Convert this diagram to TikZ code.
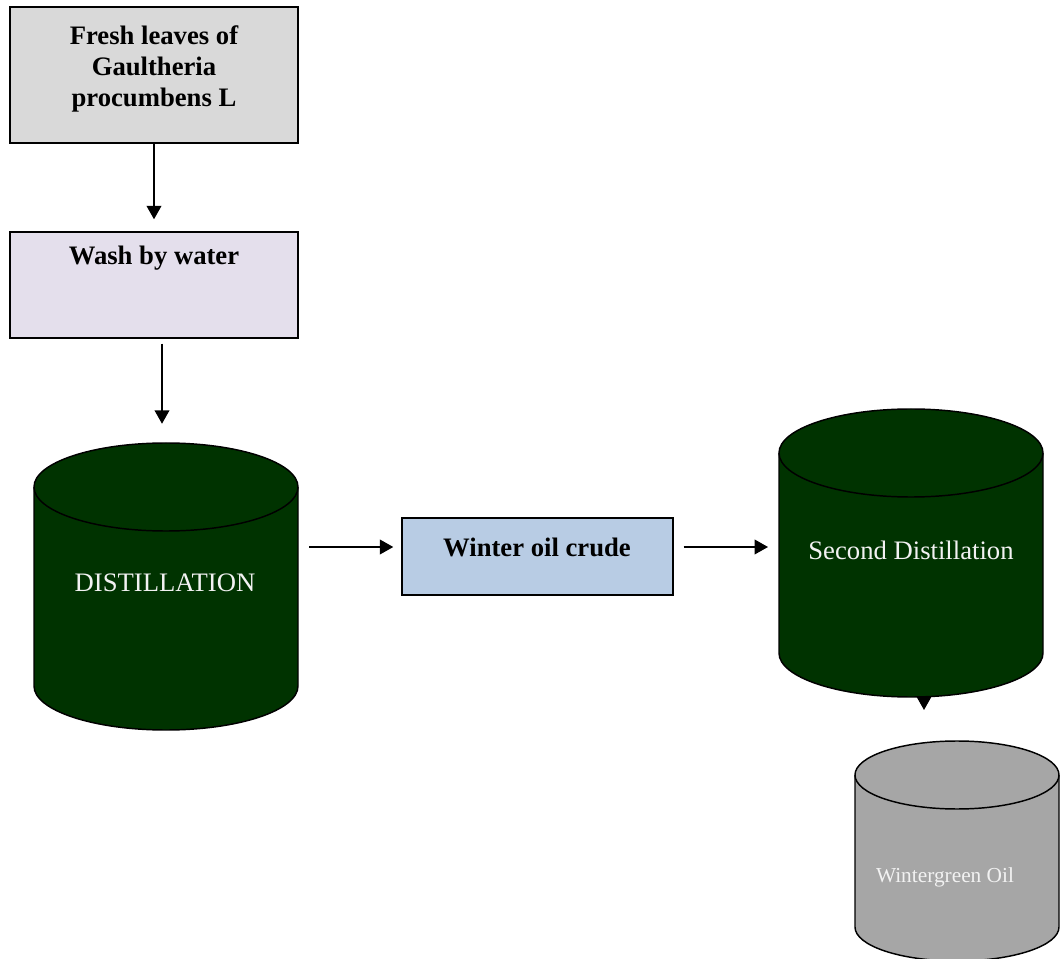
\documentclass[tikz,border=0pt]{standalone}
\usepackage{fontspec}
\setmainfont{Liberation Serif}
\usetikzlibrary{calc}
\usetikzlibrary{arrows.meta}
\definecolor{leafgray}{HTML}{D9D9D9}
\definecolor{washlilac}{HTML}{E4DFEC}
\definecolor{crudeblue}{HTML}{B8CCE4}
\definecolor{stillgreen}{HTML}{003300}
\definecolor{oilgray}{HTML}{A6A6A6}
\definecolor{paletext}{HTML}{F2F2F2}

% tank: centre x, top y, bottom y, x radius, y radius, fill
\newcommand{\tank}[6]{%
  \filldraw[fill=#6] (#1-#4,#2) -- (#1-#4,#3) arc (180:360:#4 and #5) -- (#1+#4,#2) arc (0:180:#4 and #5) -- cycle;
  \draw (#1-#4,#2) arc (180:360:#4 and #5);
}

\begin{document}
\begin{tikzpicture}[x=0.75pt,y=0.75pt,line width=1.1pt,>={Triangle[length=10pt,width=11pt]},
    box/.style={draw,inner sep=0pt},
    boxtext/.style={align=center,font=\fontsize{20}{23.25}\selectfont\bfseries},
    tanktext/.style={text=paletext,font=\fontsize{20}{24}\selectfont}]
    \useasboundingbox (0,0) rectangle (1061,958);
    \node (fresh) [box, fill=leafgray, minimum width=216pt, minimum height=102pt] at (154,883) {};
    \node (wash) [box, fill=washlilac, minimum width=216pt, minimum height=79.5pt] at (154,673) {};
    \node (crude) [box, fill=crudeblue, minimum width=203.25pt, minimum height=57.75pt] at (537.5,401.5) {};
    \node (fresh-txt) [boxtext] at (154,889) {Fresh leaves of\\Gaultheria\\procumbens L};
    \node (wash-txt) [boxtext] at (154,700) {Wash by water};
    \node (crude-txt) [boxtext] at (537,411) {Winter oil crude};
    \tank{166}{471}{272}{132}{44}{stillgreen}
    \tank{911}{505}{305}{132}{44}{stillgreen}
    \tank{957}{183}{31}{102}{34}{oilgray}
    \node (dist) [tanktext] at (165,375) {DISTILLATION};
    \node (second) [tanktext] at (911,408) {Second Distillation};
    \node (oil) [tanktext, font=\fontsize{16}{19}\selectfont] at (945,81) {Wintergreen Oil};
    \coordinate (dist-e) at (298,411);
    \coordinate (second-w) at (779,411);
    \coordinate (second-b) at (924,262);
    \draw [->, shorten >=9pt] (fresh.south) -- (wash.north);
    \draw [->] ($(wash.south)+(8,-5)$) -- ++(0,-80);
    \draw [->, shorten <=8.25pt, shorten >=6pt] (dist-e) -- (crude.west |- dist-e);
    \draw [->, shorten <=7.5pt, shorten >=8.25pt] (crude.east |- dist-e) -- (second-w);
    \draw [->] (second-b) -- ++(0,-14); %only the tip shows
\end{tikzpicture}
\end{document}
